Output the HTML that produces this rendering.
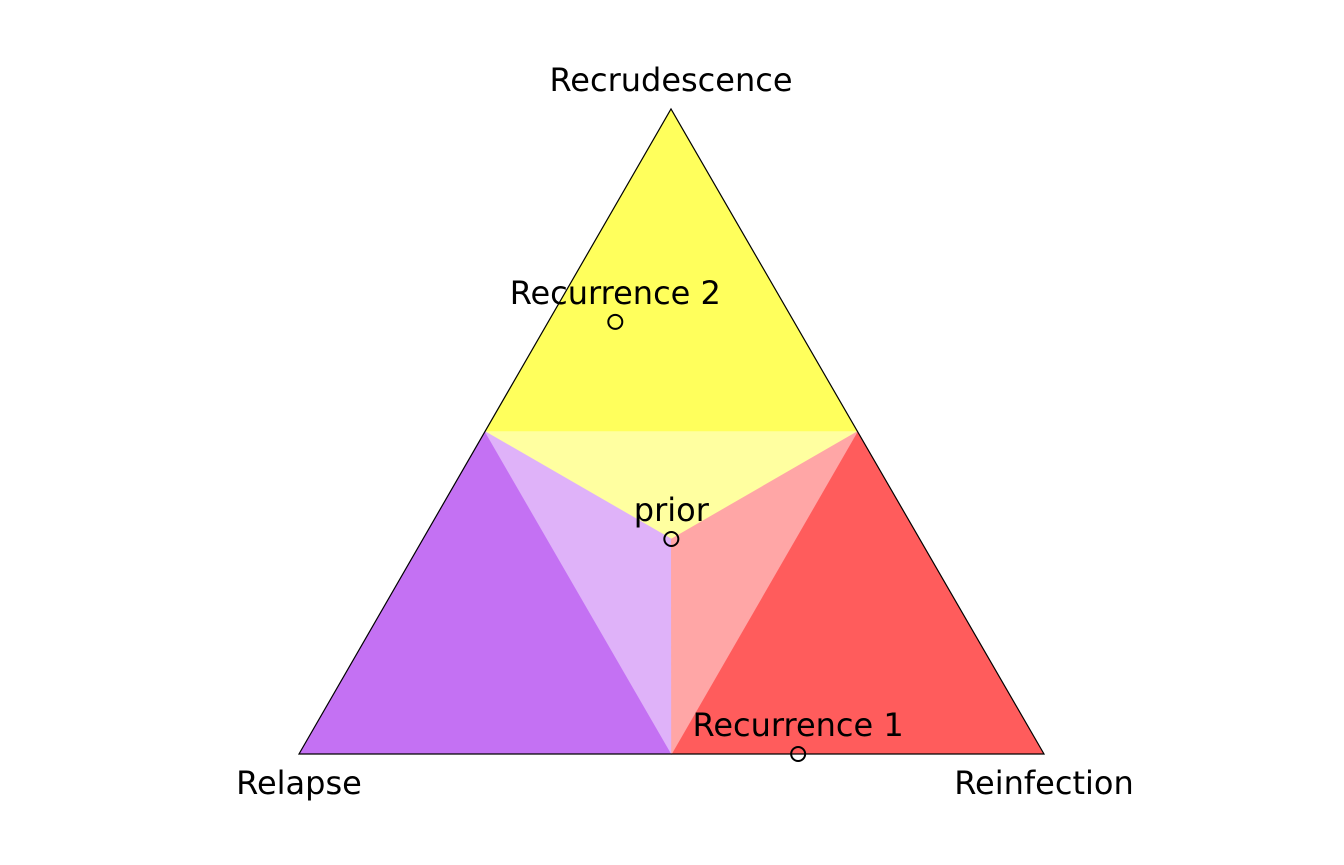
<!DOCTYPE html>
<html><head><meta charset="utf-8"><style>
html,body{margin:0;padding:0;background:#fff;}
svg{display:block;}
text{font-family:"DejaVu Sans","Liberation Sans",sans-serif;font-size:32px;fill:#000;}
</style></head><body>
<svg id="chart" width="1344" height="865" viewBox="0 0 1344 865">
<g id="regions"></g>
<g id="edges"></g>
<g id="pts"></g>
<text x="671" y="91" text-anchor="middle">Recrudescence</text>
<text x="299" y="794" text-anchor="middle">Relapse</text>
<text x="1044" y="794" text-anchor="middle">Reinfection</text>
</svg>
<script>
const pointLabels = ["prior", "Recurrence 1", "Recurrence 2"];
const relapseProb = [1/3, 0.33, 0.24];
const reinfectionProb = [1/3, 0.67, 0.09];
const recrudescenceProb = [1/3, 0.0, 0.67];

const V = {rel:[299,754], rei:[1044,754], rec:[671,109]};
function project(a,b,c){
  const s=a+b+c; a/=s;b/=s;c/=s;
  return [a*V.rel[0]+b*V.rei[0]+c*V.rec[0], a*V.rel[1]+b*V.rei[1]+c*V.rec[1]];
}
const NS="http://www.w3.org/2000/svg";
const mL=project(.5,0,.5), mR=project(0,.5,.5), mB=project(.5,.5,0), C=project(1,1,1);
const regions=[
  ["recrudescence-region",[V.rec,mL,mR],"#FFFF5C"],
  ["recrudescence-inner-region",[mL,mR,C],"#FFFFA0"],
  ["relapse-region",[V.rel,mL,mB],"#C471F3"],
  ["relapse-inner-region",[mL,C,mB],"#DFB2F9"],
  ["reinfection-region",[V.rei,mR,mB],"#FF5C5C"],
  ["reinfection-inner-region",[mR,C,mB],"#FFA6A6"]
];
const rg=document.getElementById('regions');
regions.forEach(r=>{
  const p=document.createElementNS(NS,'polygon');
  p.setAttribute('points',r[1].map(q=>q.join(',')).join(' '));
  p.setAttribute('fill',r[2]);
  p.setAttribute('stroke',r[2]);p.setAttribute('stroke-width','0.6');
  
  
  rg.appendChild(p);
});
const ol=document.createElementNS(NS,'polygon');
ol.setAttribute('points',[V.rel,V.rei,V.rec].map(q=>q.join(',')).join(' '));
ol.setAttribute('fill','none');ol.setAttribute('stroke','#000');ol.setAttribute('stroke-width','1.2');


document.getElementById('edges').appendChild(ol);
const pg=document.getElementById('pts');
pointLabels.forEach((lab,i)=>{
  const [x,y]=project(relapseProb[i],reinfectionProb[i],recrudescenceProb[i]);
  const c=document.createElementNS(NS,'circle');
  c.setAttribute('cx',x);c.setAttribute('cy',y);c.setAttribute('r',7);
  c.setAttribute('fill','none');c.setAttribute('stroke','#000');c.setAttribute('stroke-width','2');
  
  
  pg.appendChild(c);
  const t=document.createElementNS(NS,'text');
  t.setAttribute('x',x);t.setAttribute('y',y-18);t.setAttribute('text-anchor','middle');
  t.textContent=lab;
  
  
  pg.appendChild(t);
});
</script>
</body></html>
